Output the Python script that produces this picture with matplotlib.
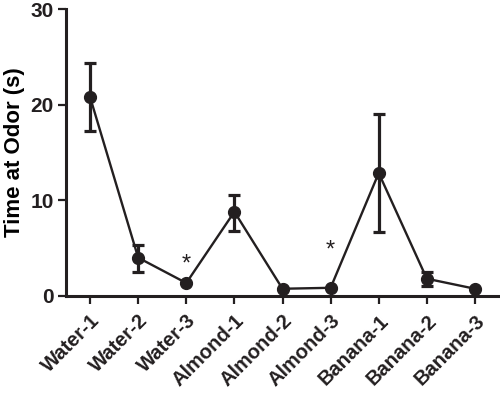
import matplotlib
matplotlib.use("Agg")
import matplotlib.pyplot as plt

categories = ["Water-1", "Water-2", "Water-3", "Almond-1", "Almond-2", "Almond-3",
              "Banana-1", "Banana-2", "Banana-3"]
means = [20.8, 4.0, 1.35, 8.8, 0.75, 0.85, 12.85, 1.8, 0.75]
err_low = [3.6, 1.5, 0.0, 2.0, 0.0, 0.0, 6.15, 0.75, 0.0]
err_high = [3.6, 1.3, 0.0, 1.8, 0.0, 0.0, 6.15, 0.7, 0.0]
star_idx = [2, 5]
star_y = [3.3, 4.75]
yticks = [0, 10, 20, 30]

plt.rcParams['font.family'] = ['Liberation Sans', 'DejaVu Sans']
fig = plt.figure(figsize=(5.0, 3.93), dpi=100)
ax = fig.add_axes([0.132, 0.247, 0.866, 0.73])
x = list(range(len(categories)))
ax.errorbar(x, means, yerr=[err_low, err_high], fmt='o-', color='#231f20',
            ecolor='#231f20', elinewidth=2.3, capsize=4.5, capthick=2.3,
            markersize=8.5, linewidth=1.7)
for i, yy in zip(star_idx, star_y):
    ax.text(i, yy, '*', ha='center', va='center', fontsize=17, color='#231f20')

ax.set_xlim(-0.5, 8.5)
ax.set_ylim(0, 30)
ax.set_yticks(yticks)
ax.set_xticks(x)
ax.set_xticklabels(categories, rotation=45, ha='right', rotation_mode='anchor',
                   fontsize=14.5, fontweight='bold')
ax.set_yticklabels([str(t) for t in yticks], fontsize=15, fontweight='bold')
ax.set_ylabel('Time at Odor (s)', fontsize=16, fontweight='bold', labelpad=4)
for s in ['top', 'right']:
    ax.spines[s].set_visible(False)
for s in ['left', 'bottom']:
    ax.spines[s].set_linewidth(2.2)
    ax.spines[s].set_color('#231f20')
ax.tick_params(axis='both', width=1.6, length=5.8, color='#231f20', labelcolor='#231f20')
ax.tick_params(axis='y', pad=3)
ax.tick_params(axis='x', pad=5)
fig.savefig('out.png', dpi=100)
